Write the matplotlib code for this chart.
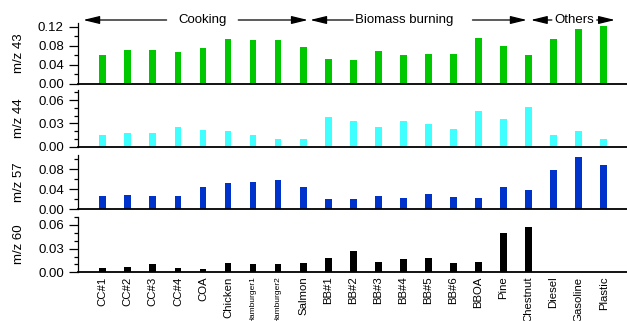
import numpy as np
import matplotlib
matplotlib.use("Agg")
import matplotlib.pyplot as plt
import matplotlib.transforms as mtransforms
from matplotlib.ticker import MultipleLocator, FormatStrFormatter

plt.rcParams["font.family"] = ["Liberation Sans", "DejaVu Sans"]

# sources on the x axis
sources = ["CC#1", "CC#2", "CC#3", "CC#4", "COA", "Chicken", "Hamburger1",
           "Hamburger2", "Salmon", "BB#1", "BB#2", "BB#3", "BB#4", "BB#5",
           "BB#6", "BBOA", "Pine", "Chestnut", "Diesel", "Gasoline", "Plastic"]

# fraction of each ion
mz43 = [0.061, 0.071, 0.072, 0.067, 0.075, 0.095, 0.092, 0.092, 0.078,
        0.052, 0.050, 0.069, 0.060, 0.062, 0.062, 0.096, 0.080, 0.060,
        0.094, 0.115, 0.121]
mz44 = [0.0146, 0.0176, 0.0176, 0.0258, 0.0215, 0.0202, 0.0150, 0.0103, 0.0103,
        0.0386, 0.0330, 0.0249, 0.0335, 0.0290, 0.0223, 0.0460, 0.0357, 0.0507,
        0.0150, 0.0200, 0.0103]
mz57 = [0.0257, 0.0277, 0.0257, 0.0270, 0.0455, 0.0535, 0.0540, 0.0594, 0.0455,
        0.0198, 0.0198, 0.0264, 0.0230, 0.0297, 0.0250, 0.0230, 0.0440, 0.0396,
        0.0790, 0.1056, 0.0890]
mz60 = [0.0050, 0.0070, 0.0100, 0.0060, 0.0040, 0.0114, 0.0100, 0.0100, 0.0114,
        0.0177, 0.0270, 0.0127, 0.0165, 0.0180, 0.0118, 0.0130, 0.0500, 0.0570,
        0.0, 0.0, 0.0]

panels = [
    # label, values, colour, ymax, major, minor
    ("m/z 43", mz43, "#00C800", 0.128, 0.04, 0.02),
    ("m/z 44", mz44, "#40FFFF", 0.073, 0.03, 0.01),
    ("m/z 57", mz57, "#0033CC", 0.1086, 0.04, 0.02),
    ("m/z 60", mz60, "#000000", 0.0705, 0.03, 0.01),
]

# group arrows: (name, left tip, left line end, text x, right line start, right tip)
groups = [
    ("Cooking", -0.78, 2.55, 4.0, 5.41, 8.19),
    ("Biomass burning", 8.28, 10.0, 12.05, 14.76, 16.93),
    ("Others", 17.09, 17.93, 18.81, 19.72, 20.45),
]

W, H = 627, 321
fig = plt.figure(figsize=(W / 100, H / 100), dpi=100)

# panel extents in pixels (top, bottom)
extents = [(22.7, 84.0), (90.0, 146.7), (155.0, 209.3), (216.7, 272.3)]
left_px, right_px = 77.7, 627.0

x = np.arange(len(sources))
axes = []
for (lab, vals, col, ymax, maj, mnr), (t, b) in zip(panels, extents):
    ax = fig.add_axes([left_px / W, 1 - b / H, (right_px - left_px) / W, (b - t) / H])
    ax.bar(x, vals, width=0.27, color=col, edgecolor="none")
    ax.set_xlim(-1, 20.93)
    ax.set_ylim(0, ymax)
    ax.spines["top"].set_visible(False)
    ax.spines["right"].set_visible(False)
    ax.spines["left"].set_linewidth(0.9)
    ax.spines["bottom"].set_linewidth(1.3)
    ax.yaxis.set_major_locator(MultipleLocator(maj))
    ax.yaxis.set_minor_locator(MultipleLocator(mnr))
    ax.yaxis.set_major_formatter(FormatStrFormatter("%.2f"))
    ax.tick_params(axis="y", which="major", length=6.5, width=0.9, labelsize=9.5, pad=3.5)
    ax.tick_params(axis="y", which="minor", length=3.2, width=0.9)
    ax.tick_params(axis="x", which="both", length=0)
    ax.set_xticks(x)
    ax.set_xticklabels([])
    ax.patch.set_visible(False)
    fig.text(19 / W, 1 - (t + b) / 2 / H, lab, rotation=90, ha="center", va="center", fontsize=9.5)
    axes.append(ax)

# category labels under the last panel
bottom_ax = axes[-1]
bottom_ax.set_xticklabels(sources, rotation=90, va="top", ha="center", fontsize=8.2)
bottom_ax.tick_params(axis="x", pad=3)
for tl in bottom_ax.get_xticklabels():
    if tl.get_text().startswith("Hamburger"):
        tl.set_fontsize(6)

# group arrows above the top panel
trans = mtransforms.blended_transform_factory(axes[0].transData, fig.transFigure)
y_arrow = 1 - 20 / H
aprops = dict(arrowstyle="-|>,head_length=0.9,head_width=0.22", color="black",
              lw=0.9, shrinkA=0, shrinkB=0, mutation_scale=11)
for name, lt, le, tx, rs, rt in groups:
    axes[0].annotate("", xy=(lt, y_arrow), xytext=(le, y_arrow), xycoords=trans,
                     textcoords=trans, arrowprops=aprops, annotation_clip=False)
    axes[0].annotate("", xy=(rt, y_arrow), xytext=(rs, y_arrow), xycoords=trans,
                     textcoords=trans, arrowprops=aprops, annotation_clip=False)
    axes[0].text(tx, y_arrow, name, transform=trans, ha="center", va="center",
                 fontsize=9.5)

plt.savefig("out.png", dpi=100)
